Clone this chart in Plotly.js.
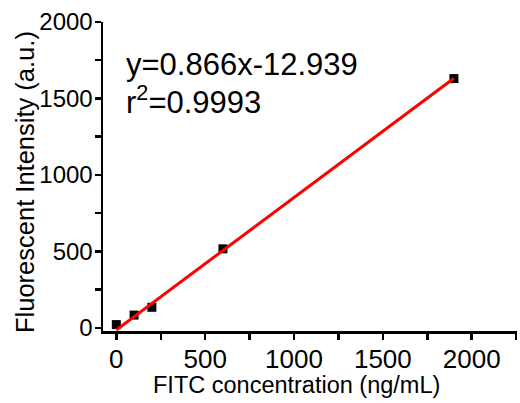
<!DOCTYPE html>
<html>
<head>
<meta charset="utf-8">
<script src="https://cdn.plot.ly/plotly-3.0.1.min.js"></script>
<style>html,body{margin:0;padding:0;background:#fff;}#chart{width:520px;height:403px;}</style>
</head>
<body>
<div id="chart"></div>
<script>
var concX = [0, 100, 200, 600, 1900];
var intensityY = [22, 84, 135, 517, 1630];
var fitX = [0, 1900];
var fitY = [-13, 1632];
var majorTicks = [0, 500, 1000, 1500, 2000];
var xMinorTicks = [250, 750, 1250, 1750, 2250];
var yMinorTicks = [250, 750, 1250, 1750];
var eqText = "y=0.866x-12.939";
var r2Text = "r<sup>2</sup>=0.9993";
var xTitle = "FITC concentration (ng/mL)";
var yTitle = "Fluorescent Intensity (a.u.)";

var FONT = "Liberation Sans, Arial, sans-serif";

var traces = [
  {
    x: concX, y: intensityY, type: 'scatter', mode: 'markers',
    marker: {symbol: 'square', size: 9, color: '#000'},
    showlegend: false, cliponaxis: false
  },
  {
    x: fitX, y: fitY, type: 'scatter', mode: 'lines',
    line: {color: '#ff0000', width: 3},
    showlegend: false, cliponaxis: false
  }
];

function axisCommon() {
  return {
    ticks: 'outside', ticklen: 6, tickwidth: 2.5, tickcolor: '#000',
    showline: true, linewidth: 2.5, linecolor: '#000',
    showgrid: false, zeroline: false
  };
}

var xa = axisCommon();
Object.assign(xa, {
  range: [-75, 2255], tickvals: majorTicks, ticklabelstandoff: -3,
  minor: {tickvals: xMinorTicks, ticks: 'outside', ticklen: 6, tickwidth: 2.5, tickcolor: '#000'},
  tickfont: {size: 26, family: FONT}
});
var ya = axisCommon();
Object.assign(ya, {
  range: [-20, 2000], tickvals: majorTicks, ticklabelstandoff: -3,
  minor: {tickvals: yMinorTicks, ticks: 'outside', ticklen: 6, tickwidth: 2.5, tickcolor: '#000'},
  tickfont: {size: 24, family: FONT}
});

var layout = {
  width: 520, height: 403,
  margin: {l: 103, r: 3, t: 22, b: 72},
  paper_bgcolor: '#fff', plot_bgcolor: '#fff',
  font: {family: FONT, color: '#000'},
  xaxis: xa,
  yaxis: ya,
  annotations: [
    {xref: 'paper', yref: 'paper', x: 0.05, y: 0.925, xanchor: 'left', yanchor: 'top',
     text: eqText, showarrow: false, font: {size: 31, family: FONT, color: '#000'}},
    {xref: 'paper', yref: 'paper', x: 0.05, y: 0.82, xanchor: 'left', yanchor: 'top',
     text: r2Text, showarrow: false, font: {size: 31, family: FONT, color: '#000'}},
    {xref: 'paper', yref: 'paper', x: (296 - 103) / 414, y: -0.175, xanchor: 'center', yanchor: 'middle',
     text: xTitle, showarrow: false, font: {size: 23.5, family: FONT, color: '#000'}},
    {xref: 'paper', yref: 'paper', x: (25 - 103) / 414, y: (331 - 182) / 309, xanchor: 'center', yanchor: 'middle',
     text: yTitle, textangle: -90, showarrow: false, font: {size: 25.5, family: FONT, color: '#000'}}
  ]
};

Plotly.newPlot('chart', traces, layout, {displayModeBar: false, staticPlot: true});
</script>
</body>
</html>
